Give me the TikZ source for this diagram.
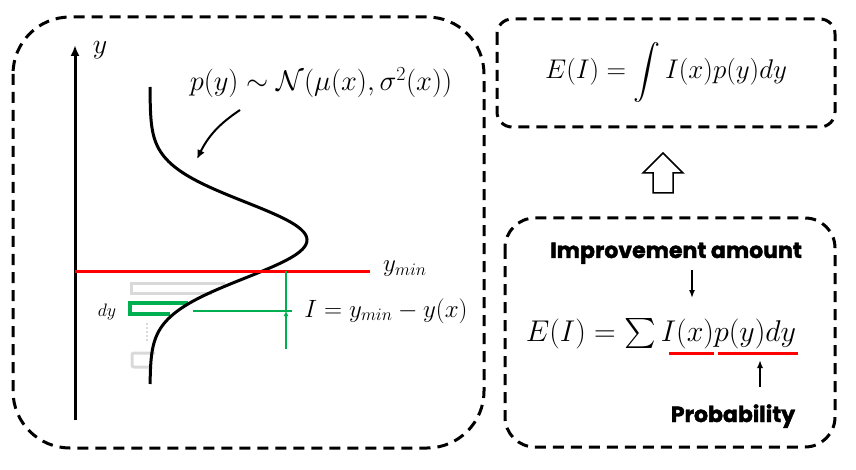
\RequirePackage{fix-cm}
\documentclass[tikz,border=0pt]{standalone}
\usepackage{amsmath}
\usepackage{amssymb}
\usepackage{fontspec}
\usepackage{tikz}
\usetikzlibrary{
	arrows.meta,
	positioning
}
\newfontfamily\tagfont{Poppins}[BoldFeatures={FakeBold=1.8}]
\definecolor{BarGreen}{RGB}{0,176,80}
\definecolor{BarGray}{RGB}{217,217,217}

\begin{document}
\begin{tikzpicture}[x=1pt, y=-1pt,
		panel/.style={line width=3pt, dash pattern=on 11pt off 7pt},
		eqn/.style={inner sep=0pt, anchor=base, font=\fontsize{30}{34}\selectfont},
		lbl/.style={inner sep=0pt, anchor=base, font=\fontsize{25}{30}\selectfont},
		tag/.style={inner sep=0pt, anchor=base, font=\tagfont\bfseries\fontsize{22}{26}\selectfont},
		pointer/.style={line width=1.5pt, -{Latex[length=8pt,width=6pt]}}
	]
	\useasboundingbox (0,0) rectangle (856,470);

	% 三个虚线框
	\draw[panel, rounded corners=57pt] (13,17) rectangle (484,448);
	\draw[panel, rounded corners=15pt] (497,19) rectangle (835,127);
	\draw[panel, rounded corners=30pt] (505,218) rectangle (835,447);

	% 坐标轴
	\draw[line width=3pt, -{Latex[length=11pt,width=9pt]}] (75,420) -- (75,45);
	\node[lbl, font=\fontsize{28}{32}\selectfont] (ylab) at (100,54) {$y$};

	% 区间 dy
	\draw[BarGray, line width=3pt] (225,283) -- (131,283) -- (131,293) -- (212,293);
	\draw[BarGreen, line width=4pt] (188,303) -- (130,303) -- (130,314) -- (170,314);
	\draw[BarGray, line width=2pt, dotted] (147,323) -- (147,341);
	\draw[BarGray, line width=3pt, rounded corners=2pt] (155,353) -- (132,353) -- (132,367) -- (152,367);
	\node[lbl, font=\fontsize{18}{22}\selectfont] (dylab) at (107,316) {$dy$};

	% 正态分布
	\draw[line width=3pt, domain=87:384, samples=120, smooth, variable=\t]
		plot ({150+157*exp(-0.5*((\t-240)/38)^2)}, {\t});
	\node[lbl, font=\fontsize{28.5}{32}\selectfont] (plab) at (321,91) {$p(y)\sim\mathcal{N}(\mu(x),\sigma^2(x))$};
	\coordinate (pa) at (240,110);
	\coordinate (pb) at (197,159);
	\draw[line width=2pt, -{Latex[length=9pt,width=8pt]}] (pa) to[bend right=15] (pb);

	% y_min 与改进量
	\draw[red, line width=3pt] (75,271) -- (370,271);
	\node[lbl, anchor=base west] (yminlab) at (383,272) {$y_{min}$};
	\draw[BarGreen, line width=2pt] (193,311) -- (292,311);
	\draw[BarGreen, line width=2pt, -{Latex[length=5pt,width=5pt]}] (286,349) -- (286,311);
	\draw[BarGreen, line width=2pt] (286,311) -- (286,271);
	\node[lbl] (ilab) at (386,317) {$I=y_{min}-y(x)$};

	% 期望
	\node[eqn, font=\fontsize{27}{32}\selectfont] (inteq) at (666,79) {$\displaystyle E(I)=\int I(x)p(y)dy$};
	\draw[line width=1.5pt] (653,193) -- (653,173) -- (643,173) -- (663,153)
		-- (683,173) -- (673,173) -- (673,193) -- cycle;
	\node[eqn] (sumeq) at (661,341) {$E(I)=\sum I(x)p(y)dy$};
	\draw[red, line width=3pt] (669,353) -- (714,353);
	\draw[red, line width=3pt] (718,353) -- (798,353);

	\node[tag] (improve) at (676,258) {Improvement amount};
	\node[tag] (prob) at (733,422) {Probability};
	\coordinate (ia) at (692,270);
	\coordinate (ib) at (692,298);
	\coordinate (pc) at (760,387);
	\coordinate (pd) at (760,360);
	\draw[pointer] (ia) -- (ib);
	\draw[pointer] (pc) -- (pd);
\end{tikzpicture}
\end{document}
